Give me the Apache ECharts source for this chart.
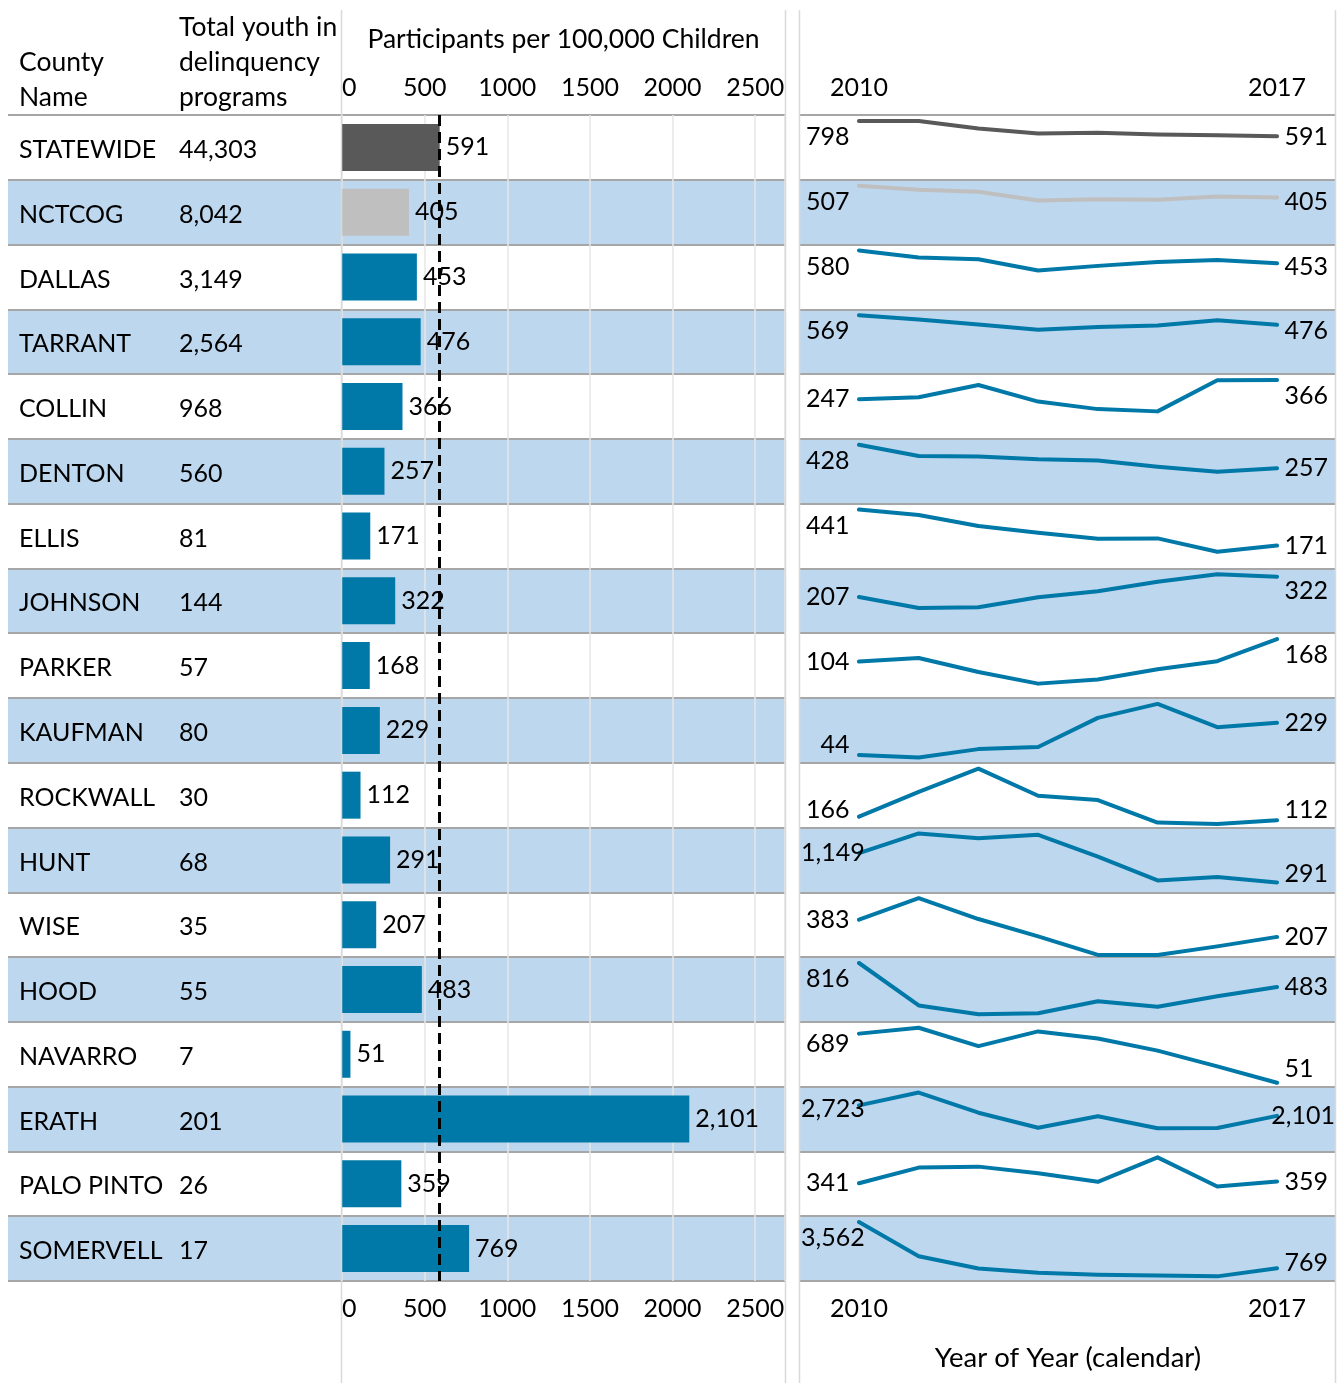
<!DOCTYPE html>
<html>
<head>
<meta charset="utf-8">
<script src="https://cdn.jsdelivr.net/npm/echarts@6/dist/echarts.min.js"></script>
<style>
  html, body { margin: 0; padding: 0; background: #ffffff; }
  #chart { width: 1337px; height: 1383px; }
</style>
</head>
<body>
<div id="chart"></div>
<script>
// ---- Data -----------------------------------------------------------------
const counties = ['STATEWIDE', 'NCTCOG', 'DALLAS', 'TARRANT', 'COLLIN', 'DENTON', 'ELLIS',
  'JOHNSON', 'PARKER', 'KAUFMAN', 'ROCKWALL', 'HUNT', 'WISE', 'HOOD', 'NAVARRO', 'ERATH',
  'PALO PINTO', 'SOMERVELL'];
const youthInPrograms = [44303, 8042, 3149, 2564, 968, 560, 81, 144, 57, 80, 30, 68, 35, 55, 7, 201, 26, 17];
const participantsPer100k = [591, 405, 453, 476, 366, 257, 171, 322, 168, 229, 112, 291, 207, 483, 51, 2101, 359, 769];
const rateTicks = [0, 500, 1000, 1500, 2000, 2500];
const years = ['2010', '2011', '2012', '2013', '2014', '2015', '2016', '2017'];

// yearly participants per 100,000 children, 2010 .. 2017
const trendStatewide = [798, 797, 694, 627, 636, 614, 605, 591];
const trendNctcog    = [507, 472, 455, 379, 390, 385, 414, 405];
const trendDallas    = [580, 510, 494, 382, 428, 467, 487, 453];
const trendTarrant   = [569, 528, 479, 429, 455, 469, 521, 476];
const trendCollin    = [247, 259, 335, 232, 185, 171, 364, 366];
const trendDenton    = [428, 347, 343, 323, 313, 269, 232, 257];
const trendEllis     = [441, 400, 318, 268, 223, 225, 125, 171];
const trendJohnson   = [207, 144, 148, 205, 240, 294, 336, 322];
const trendParker    = [104, 114, 74, 41, 53, 82, 105, 168];
const trendKaufman   = [44, 30, 78, 90, 256, 336, 203, 229];
const trendRockwall  = [166, 543, 895, 483, 417, 75, 55, 112];
const trendHunt      = [1149, 1730, 1590, 1690, 1050, 350, 450, 291];
const trendWise      = [383, 603, 390, 212, 22, 22, 110, 207];
const trendHood      = [816, 228, 105, 120, 287, 211, 354, 483];
const trendNavarro   = [689, 765, 527, 718, 625, 468, 264, 51];
const trendErath     = [2723, 3480, 2290, 1400, 2080, 1370, 1390, 2101];
const trendPaloPinto = [341, 502, 512, 444, 355, 608, 307, 359];
const trendSomervell = [3562, 1500, 760, 500, 380, 330, 280, 769];

const trends = [trendStatewide, trendNctcog, trendDallas, trendTarrant, trendCollin, trendDenton,
  trendEllis, trendJohnson, trendParker, trendKaufman, trendRockwall, trendHunt, trendWise,
  trendHood, trendNavarro, trendErath, trendPaloPinto, trendSomervell];

// ---- Layout & style -------------------------------------------------------
const FONT = 'Lato, "Open Sans", sans-serif';
const FS = 25;        // data text, tick labels
const FS_HEAD = 26.5; // header captions
const TEXT = '#000000';
const BAND = '#bdd7ee';
const SEP = '#a6a6a6';
const DIVIDER = '#d9d9d9';
const TEAL = '#0079a8';
const ROW_TOP = 115;
const ROW_BOTTOM = 1281;
const N = counties.length;
const ROW_H = (ROW_BOTTOM - ROW_TOP) / N;
const SPARK_L = 800, SPARK_R = 1335;
const AXIS_MAX = 2680;

const fmt = v => Number(v).toLocaleString('en-US');
const markColor = i => (i === 0 ? '#595959' : i === 1 ? '#bfbfbf' : TEAL);

const bandAxis = (gridIndex, extra) => Object.assign({
  gridIndex, type: 'category', inverse: true, data: counties,
  axisLine: { show: false }, axisTick: { show: false }, axisLabel: { show: false },
  splitArea: { show: true, interval: 0, areaStyle: { color: ['#ffffff', BAND] } },
  splitLine: { show: true, interval: 0, lineStyle: { color: SEP, width: 2 } },
  z: 0
}, extra || {});

const rateAxis = (position, extra) => Object.assign({
  gridIndex: 1, type: 'value', min: rateTicks[0], max: AXIS_MAX, interval: rateTicks[1] - rateTicks[0],
  position, z: 1,
  axisLine: { show: false }, axisTick: { show: false },
  axisLabel: {
    fontSize: FS, color: TEXT, fontFamily: FONT, margin: 15,
    showMaxLabel: false, alignMinLabel: 'left', formatter: v => String(v)
  },
  splitLine: { show: false }
}, extra || {});

const grids = [
  { left: 8, top: ROW_TOP, width: 333, height: ROW_BOTTOM - ROW_TOP },
  { left: 342, top: ROW_TOP, width: 443, height: ROW_BOTTOM - ROW_TOP },
  { left: SPARK_L, top: ROW_TOP, width: SPARK_R - SPARK_L, height: ROW_BOTTOM - ROW_TOP }
];
const xAxes = [
  { gridIndex: 0, type: 'value', show: false },
  rateAxis('top', {
    splitLine: { show: true, lineStyle: { color: '#e6e6e6', width: 1.5 } },
    name: 'Participants per 100,000 Children', nameLocation: 'middle', nameGap: 62,
    nameTextStyle: { fontSize: FS_HEAD, color: TEXT, fontFamily: FONT }
  }),
  rateAxis('bottom'),
  { gridIndex: 2, type: 'value', show: false }
];
const yAxes = [
  bandAxis(0, {
    axisLabel: {
      show: true, inside: true, interval: 0, margin: 11, align: 'left', padding: [5, 0, 0, 0],
      formatter: (name, idx) => '{n|' + name + '}{t|' + fmt(youthInPrograms[idx]) + '}',
      rich: {
        n: { width: 160, fontSize: FS, color: TEXT, fontFamily: FONT },
        t: { fontSize: FS, color: TEXT, fontFamily: FONT }
      }
    }
  }),
  bandAxis(1),
  bandAxis(2)
];

const series = [
  {
    type: 'bar', xAxisIndex: 1, yAxisIndex: 1, barWidth: 47, z: 2,
    data: participantsPer100k.map((v, i) => ({ value: v, itemStyle: { color: markColor(i) } })),
    label: {
      show: true, position: 'right', distance: 6, formatter: p => fmt(p.value),
      fontSize: FS, color: TEXT, fontFamily: FONT
    }
  },
  {
    // statewide reference line
    type: 'line', xAxisIndex: 1, yAxisIndex: 1, data: [], z: 10,
    markLine: {
      silent: true, symbol: 'none', label: { show: false },
      lineStyle: { color: '#000000', width: 3, type: [11, 6] },
      data: [{ xAxis: participantsPer100k[0] }]
    }
  }
];

// one small grid per county for the yearly trend line
trends.forEach((trend, i) => {
  const top = ROW_TOP + i * ROW_H;
  grids.push({ left: 859, top, width: 418, height: ROW_H });
  const xa = {
    gridIndex: 3 + i, type: 'category', data: years, boundaryGap: false, show: false
  };
  if (i === 0 || i === N - 1) {
    Object.assign(xa, {
      show: true, position: i === 0 ? 'top' : 'bottom',
      axisLine: { show: false }, axisTick: { show: false }, splitLine: { show: false },
      axisLabel: {
        fontSize: FS, color: TEXT, fontFamily: FONT, margin: 15,
        interval: idx => idx === 0 || idx === years.length - 1
      }
    });
    if (i === N - 1) {
      Object.assign(xa, {
        name: 'Year of Year (calendar)', nameLocation: 'middle', nameGap: 63,
        nameTextStyle: { fontSize: FS_HEAD + 1, color: TEXT, fontFamily: FONT }
      });
    }
  }
  xAxes.push(xa);
  yAxes.push({ gridIndex: 3 + i, type: 'value', min: 0, max: v => v.max * 1.1, show: false });

  const last = trend.length - 1;
  series.push({
    type: 'line', xAxisIndex: 4 + i, yAxisIndex: 3 + i, z: 3,
    symbol: 'circle', symbolSize: 3, showSymbol: true,
    itemStyle: { color: markColor(i) },
    lineStyle: { color: markColor(i), width: 4, cap: 'round', join: 'round' },
    label: { fontSize: FS, color: TEXT, fontFamily: FONT, formatter: p => fmt(p.value) },
    data: trend.map((v, j) => {
      if (j === 0) return { value: v, label: { show: true, position: 'left', distance: 8 } };
      if (j === last) return { value: v, label: { show: true, position: 'right', distance: 6 } };
      return v;
    }),
    // keep end labels inside their own cell
    labelLayout: p => {
      const r = p.labelRect;
      const rowTop = top, rowBottom = top + ROW_H;
      const cy = r.y + r.height / 2;
      let dy = 0, dx = 0;
      if (cy < rowTop + 22) dy = rowTop + 22 - cy;
      else if (cy > rowBottom - 18) dy = rowBottom - 18 - cy;
      if (r.x < SPARK_L + 1) dx = SPARK_L + 1 - r.x;
      else if (r.x + r.width > SPARK_R) dx = SPARK_R - (r.x + r.width);
      return { dx, dy };
    }
  });
});

grids.forEach(g => { g.outerBoundsMode = 'none'; g.containLabel = false; });

const headerText = (x, y, text) => ({
  type: 'text', x, y, silent: true,
  style: { text, fontSize: FS_HEAD, fontFamily: FONT, fill: TEXT, verticalAlign: 'middle', align: 'left' }
});
const divider = x => ({
  type: 'line', silent: true, z: 50,
  shape: { x1: x, y1: 10, x2: x, y2: 1383 },
  style: { stroke: DIVIDER, lineWidth: 1.5 }
});

const chart = echarts.init(document.getElementById('chart'), null, { renderer: 'canvas' });
chart.setOption({
  backgroundColor: '#ffffff',
  animation: false,
  grid: grids,
  xAxis: xAxes,
  yAxis: yAxes,
  series,
  graphic: [
    headerText(19, 62, 'County'),
    headerText(19, 97, 'Name'),
    headerText(179, 27, 'Total youth in'),
    headerText(179, 62, 'delinquency'),
    headerText(179, 97, 'programs'),
    divider(341.5),
    divider(785.5),
    divider(799.5),
    divider(1335.5)
  ]
});
</script>
</body>
</html>
